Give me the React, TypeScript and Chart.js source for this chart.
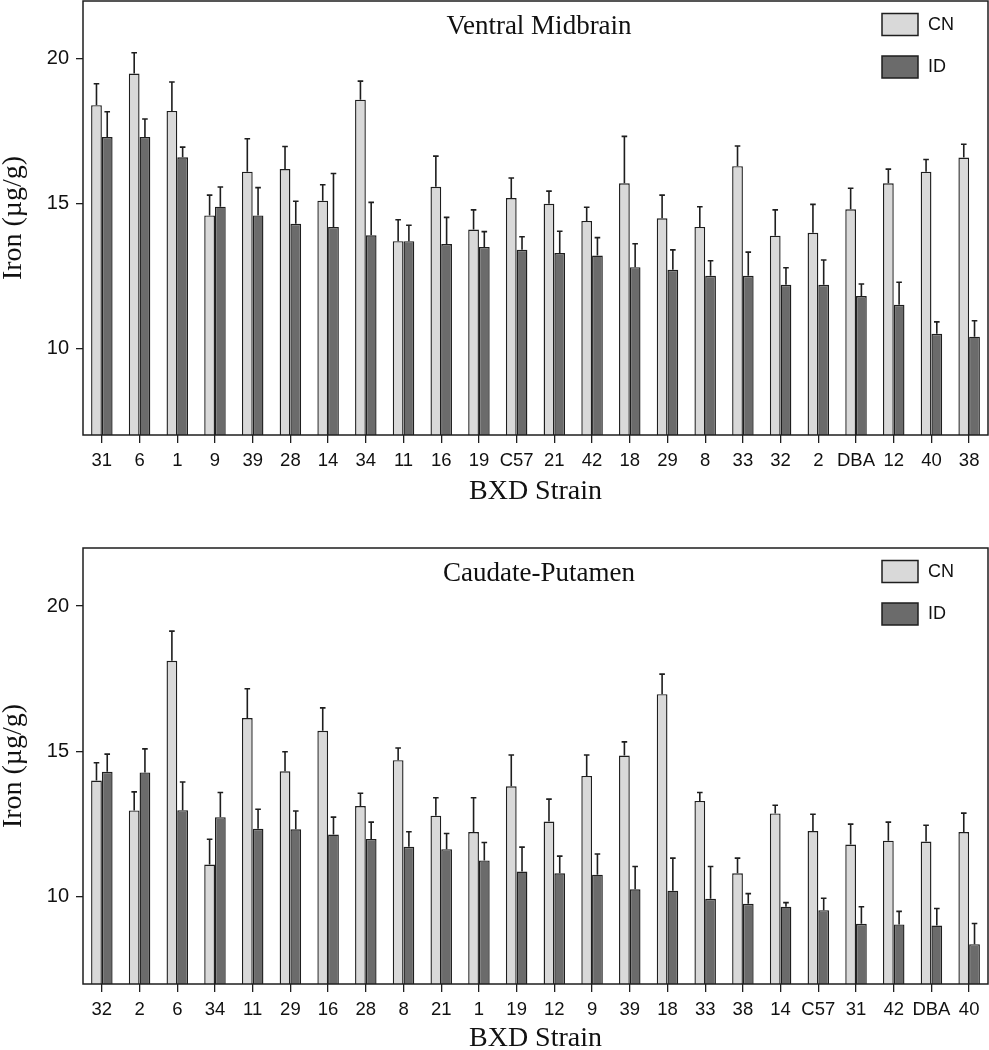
import React, { useEffect, useRef } from "react";
import { Chart, registerables } from "chart.js";

Chart.register(...registerables);

// ---------- Data ----------
const vmStrains = ["31", "6", "1", "9", "39", "28", "14", "34", "11", "16", "19", "C57", "21", "42", "18", "29", "8", "33", "32", "2", "DBA", "12", "40", "38"];
const vmCN = [18.4, 19.49, 18.2, 14.59, 16.1, 16.19, 15.1, 18.59, 13.7, 15.58, 14.1, 15.19, 14.99, 14.4, 15.7, 14.49, 14.19, 16.29, 13.89, 13.99, 14.8, 15.7, 16.1, 16.59];
const vmCNErr = [0.74, 0.72, 1.0, 0.7, 1.14, 0.78, 0.55, 0.64, 0.74, 1.06, 0.68, 0.69, 0.44, 0.47, 1.62, 0.8, 0.7, 0.7, 0.89, 0.98, 0.73, 0.49, 0.42, 0.46];
const vmID = [17.3, 17.3, 16.6, 14.89, 14.59, 14.3, 14.19, 13.9, 13.7, 13.6, 13.5, 13.4, 13.29, 13.2, 12.8, 12.71, 12.5, 12.5, 12.19, 12.19, 11.8, 11.5, 10.5, 10.4];
const vmIDErr = [0.87, 0.62, 0.35, 0.68, 0.96, 0.78, 1.85, 1.14, 0.55, 0.92, 0.53, 0.45, 0.75, 0.62, 0.81, 0.69, 0.52, 0.82, 0.59, 0.86, 0.42, 0.78, 0.41, 0.55];

const cpStrains = ["32", "2", "6", "34", "11", "29", "16", "28", "8", "21", "1", "19", "12", "9", "39", "18", "33", "38", "14", "C57", "31", "42", "DBA", "40"];
const cpCN = [14.0, 12.97, 18.12, 11.11, 16.15, 14.32, 15.71, 13.12, 14.7, 12.79, 12.23, 13.8, 12.59, 14.16, 14.86, 16.97, 13.3, 10.81, 12.87, 12.26, 11.8, 11.93, 11.9, 12.23];
const cpCNErr = [0.61, 0.64, 1.02, 0.87, 1.01, 0.67, 0.79, 0.44, 0.42, 0.62, 1.18, 1.08, 0.77, 0.72, 0.47, 0.69, 0.29, 0.52, 0.28, 0.58, 0.7, 0.64, 0.56, 0.65];
const cpID = [14.3, 14.28, 12.98, 12.74, 12.34, 12.32, 12.14, 11.99, 11.72, 11.64, 11.25, 10.87, 10.81, 10.76, 10.26, 10.21, 9.93, 9.76, 9.66, 9.54, 9.07, 9.05, 9.01, 8.37];
const cpIDErr = [0.61, 0.81, 0.97, 0.85, 0.67, 0.63, 0.6, 0.58, 0.52, 0.54, 0.62, 0.84, 0.59, 0.71, 0.78, 1.12, 1.11, 0.35, 0.14, 0.41, 0.59, 0.45, 0.59, 0.71];

const seriesNames = ["CN", "ID"];
const yTickValues = [10, 15, 20];
const yMin = 7;
const yMax = 22;
const yAxisTitle = "Iron (µg/g)";
const xAxisTitle = "BXD Strain";

// ---------- Styles ----------
const CN_FILL = "#d9d9d9";
const ID_FILL = "#6b6b6b";
const INK = "#1e1e1e";
const SANS = "'Liberation Sans', Arial, Helvetica, sans-serif";
const SERIF = "'Liberation Serif', 'Times New Roman', serif";

const errorBarPlugin = {
  id: "errorBars",
  afterDatasetsDraw(chart: any) {
    const ctx = chart.ctx;
    const ys = chart.scales.y;
    ctx.save();
    ctx.strokeStyle = INK;
    ctx.lineWidth = 1.6;
    chart.data.datasets.forEach((ds: any, i: number) => {
      const meta = chart.getDatasetMeta(i);
      meta.data.forEach((bar: any, j: number) => {
        const v = ds.data[j];
        const e = ds.errors[j];
        const yBase = ys.getPixelForValue(v);
        const yTop = ys.getPixelForValue(v + e);
        ctx.beginPath();
        ctx.moveTo(bar.x, yBase);
        ctx.lineTo(bar.x, yTop);
        ctx.moveTo(bar.x - 2.8, yTop);
        ctx.lineTo(bar.x + 2.8, yTop);
        ctx.stroke();
      });
    });
    ctx.restore();
  },
};

const frameTitleLegendPlugin = {
  id: "frameTitleLegend",
  afterDraw(chart: any, _args: any, opts: any) {
    const ctx = chart.ctx;
    const a = chart.chartArea;
    ctx.save();
    // frame
    ctx.strokeStyle = INK;
    ctx.lineWidth = 1.5;
    ctx.strokeRect(a.left, a.top, a.right - a.left, a.bottom - a.top);
    // panel title
    ctx.fillStyle = "#111";
    ctx.font = `27px ${SERIF}`;
    ctx.textAlign = "center";
    ctx.textBaseline = "alphabetic";
    ctx.fillText(opts.text, a.left + 456, a.top + 33);
    // legend
    ctx.font = `18px ${SANS}`;
    ctx.textAlign = "left";
    ctx.textBaseline = "middle";
    chart.data.datasets.forEach((ds: any, i: number) => {
      const bx = a.left + 799;
      const by = a.top + 12.5 + i * 42.5;
      ctx.fillStyle = ds.backgroundColor;
      ctx.fillRect(bx, by, 36, 22);
      ctx.lineWidth = 1.5;
      ctx.strokeStyle = INK;
      ctx.strokeRect(bx, by, 36, 22);
      ctx.fillStyle = "#111";
      ctx.fillText(ds.label, bx + 46, by + 11.5);
    });
    ctx.restore();
  },
};

type PanelProps = {
  top: number;
  height: number;
  plotTop: number;
  plotBottom: number;
  xTitleCenter: number;
  title: string;
  labels: string[];
  cn: number[];
  cnErr: number[];
  id: number[];
  idErr: number[];
};

function Panel(p: PanelProps) {
  const ref = useRef<HTMLCanvasElement | null>(null);
  useEffect(() => {
    if (!ref.current) return;
    const xAxisHeight = p.height - p.plotBottom;
    const xTitlePadBottom = p.height - p.xTitleCenter - 14;
    const chart = new Chart(ref.current, {
      type: "bar",
      data: {
        labels: p.labels,
        datasets: [
          {
            label: seriesNames[0],
            data: p.cn,
            errors: p.cnErr,
            backgroundColor: CN_FILL,
            borderColor: INK,
            borderWidth: 1.4,
            borderSkipped: false,
            categoryPercentage: 0.57,
            barPercentage: 1.0,
          } as any,
          {
            label: seriesNames[1],
            data: p.id,
            errors: p.idErr,
            backgroundColor: ID_FILL,
            borderColor: INK,
            borderWidth: 1.4,
            borderSkipped: false,
            categoryPercentage: 0.57,
            barPercentage: 1.0,
          } as any,
        ],
      },
      options: {
        responsive: false,
        animation: false,
        devicePixelRatio: 1,
        layout: { padding: { top: p.plotTop, right: 1, left: 0, bottom: 0 } },
        plugins: {
          legend: { display: false },
          tooltip: { enabled: false },
          title: { display: false },
          frameTitleLegend: { text: p.title },
        } as any,
        scales: {
          x: {
            type: "category",
            offset: true,
            border: { display: false },
            grid: {
              offset: false,
              drawOnChartArea: false,
              drawTicks: true,
              tickLength: 8,
              color: INK,
              lineWidth: 1.3,
            },
            ticks: {
              autoSkip: false,
              maxRotation: 0,
              minRotation: 0,
              padding: 7,
              color: "#111",
              font: { family: SANS, size: 18.5 },
            },
            title: {
              display: true,
              text: xAxisTitle,
              color: "#111",
              font: { family: SERIF, size: 28, lineHeight: 1 },
              padding: { top: 0, bottom: xTitlePadBottom },
            },
            afterFit(scale: any) {
              scale.height = xAxisHeight;
              scale.paddingLeft = 0;
              scale.paddingRight = 0;
            },
          },
          y: {
            type: "linear",
            min: yMin,
            max: yMax,
            border: { display: false },
            grid: {
              drawOnChartArea: false,
              drawTicks: true,
              tickLength: 7,
              color: INK,
              lineWidth: 1.3,
            },
            ticks: {
              padding: 7,
              color: "#111",
              font: { family: SANS, size: 20 },
            },
            afterBuildTicks(scale: any) {
              scale.ticks = yTickValues.map((v) => ({ value: v }));
            },
            title: {
              display: true,
              text: yAxisTitle,
              color: "#111",
              font: { family: SERIF, size: 28, lineHeight: 1 },
              padding: { top: 0, bottom: 0 },
            },
            afterFit(scale: any) {
              scale.width = 83;
              scale.paddingTop = 0;
              scale.paddingBottom = 0;
            },
          },
        },
      } as any,
      plugins: [errorBarPlugin, frameTitleLegendPlugin],
    });
    return () => chart.destroy();
  }, []);
  return (
    <canvas
      ref={ref}
      width={989}
      height={p.height}
      style={{ position: "absolute", left: 0, top: p.top, width: 989, height: p.height }}
    />
  );
}

export default function App() {
  return (
    <div
      style={{
        position: "absolute",
        left: 0,
        top: 0,
        width: 989,
        height: 1050,
        overflow: "hidden",
        background: "#ffffff",
      }}
    >
      <Panel
        top={0}
        height={520}
        plotTop={1}
        plotBottom={435}
        xTitleCenter={492}
        title="Ventral Midbrain"
        labels={vmStrains}
        cn={vmCN}
        cnErr={vmCNErr}
        id={vmID}
        idErr={vmIDErr}
      />
      <Panel
        top={520}
        height={530}
        plotTop={28}
        plotBottom={464}
        xTitleCenter={519}
        title="Caudate-Putamen"
        labels={cpStrains}
        cn={cpCN}
        cnErr={cpCNErr}
        id={cpID}
        idErr={cpIDErr}
      />
    </div>
  );
}
